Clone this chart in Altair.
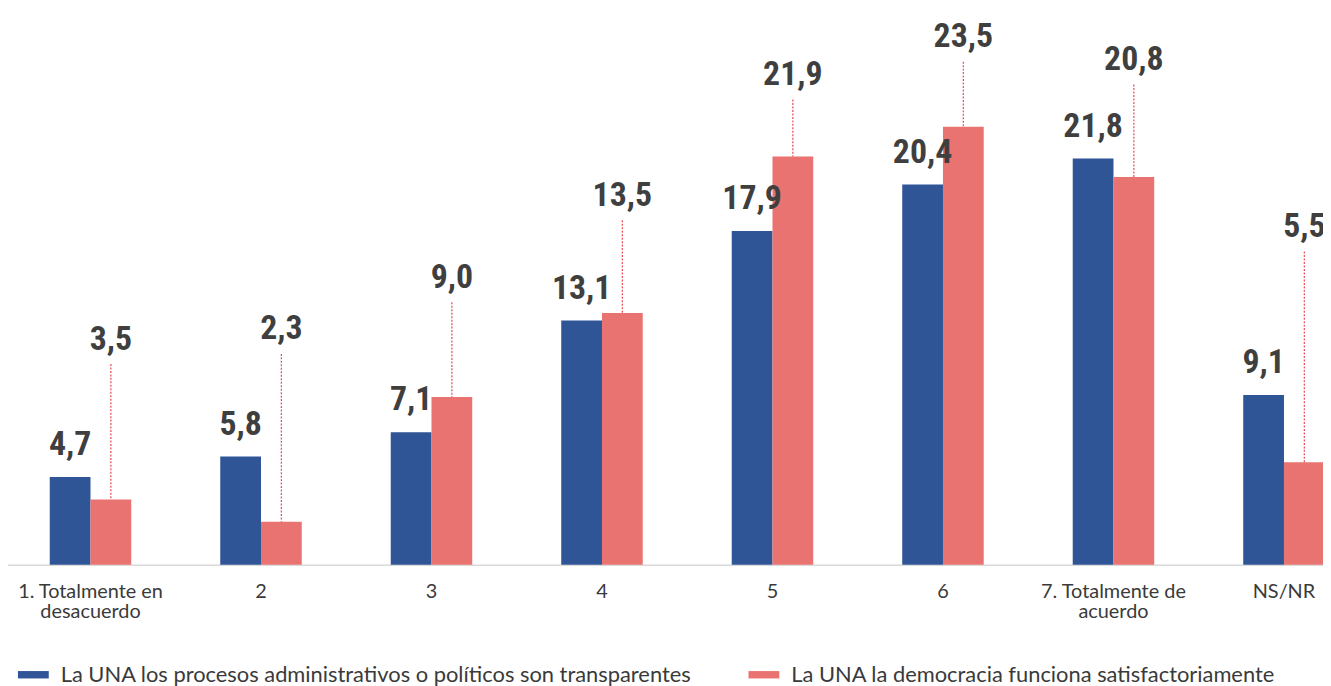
import altair as alt
import pandas as pd

categories = ["1. Totalmente en\ndesacuerdo", "2", "3", "4", "5", "6",
              "7. Totalmente  de\nacuerdo", "NS/NR"]
series = ["La UNA los procesos administrativos o políticos son transparentes",
          "La UNA la democracia funciona satisfactoriamente"]
blue_values = [4.7, 5.8, 7.1, 13.1, 17.9, 20.4, 21.8, 9.1]
red_values = [3.5, 2.3, 9.0, 13.5, 21.9, 23.5, 20.8, 5.5]
# height (in value units) where each raised red label sits
red_label_at = [12.21, 12.75, 15.52, 19.92, 26.4, 28.43, 27.2, 18.24]

colors = ["#2F5597", "#E97371"]

rows = []
for i, c in enumerate(categories):
    rows.append({"cat": c, "series": series[0], "value": blue_values[i],
                 "label": f"{blue_values[i]:.1f}".replace(".", ","), "label_at": None})
    rows.append({"cat": c, "series": series[1], "value": red_values[i],
                 "label": f"{red_values[i]:.1f}".replace(".", ","), "label_at": red_label_at[i]})
df = pd.DataFrame(rows)

VFONT = "Roboto Condensed, DejaVu Sans Condensed, sans-serif"
TFONT = "Lato"

x = alt.X("cat:N", sort=categories, title=None,
          scale=alt.Scale(range=[-2.77, 1369.5], paddingInner=0.522, paddingOuter=0.261),
          axis=alt.Axis(labelAngle=0, ticks=False, domainColor="#D9D9D9", domainWidth=1.5,
                        labelFont=TFONT, labelFontSize=20, labelColor="#3A3A3A",
                        labelPadding=17, labelLineHeight=20, labelLimit=400,
                        labelExpr="split(datum.label, '\\n')", grid=False))
xo = alt.XOffset("series:N", sort=series, scale=alt.Scale(paddingInner=0))
yscale = alt.Scale(domain=[0, 29.76], nice=False, zero=True)

base = alt.Chart(df).encode(x=x, xOffset=xo)

bars = base.mark_bar().encode(
    y=alt.Y("value:Q", scale=yscale, axis=None),
    color=alt.Color("series:N", sort=series,
                    scale=alt.Scale(domain=series, range=colors),
                    legend=alt.Legend(title=None, orient="none", legendX=10, legendY=653,
                                      direction="horizontal",
                                      symbolType="M-1,-0.24H1V0.24H-1Z", symbolSize=961,
                                      symbolStrokeWidth=0, labelFont=TFONT, labelFontSize=22,
                                      labelColor="#3A3A3A", labelOffset=12, labelLimit=1000,
                                      columnPadding=57)),
)

blue_text = base.transform_filter(alt.datum.series == series[0]).mark_text(
    baseline="alphabetic", dy=-22, font=VFONT, fontWeight="bold", fontSize=34, color="#3F3F3F"
).encode(y=alt.Y("value:Q", scale=yscale), text="label:N")

red_text = base.transform_filter(alt.datum.series == series[1]).mark_text(
    baseline="alphabetic", dy=12.5, font=VFONT, fontWeight="bold", fontSize=34, color="#3F3F3F"
).encode(y=alt.Y("label_at:Q", scale=yscale), text="label:N")

leaders = base.transform_filter(alt.datum.series == series[1]).mark_rule(
    yOffset=27, strokeDash=[2, 1.5], color="#E8555E", strokeWidth=1.3
).encode(y=alt.Y("label_at:Q", scale=yscale), y2="value:Q")

chart = alt.layer(bars, leaders, blue_text, red_text).properties(
    width=1323, height=558,
    autosize=alt.AutoSizeParams(type="none"),
    padding={"left": 0, "top": 0, "right": 0, "bottom": 120},
).configure_view(stroke=None)

chart.save("out.html", embed_options={"renderer": "svg", "actions": False})
